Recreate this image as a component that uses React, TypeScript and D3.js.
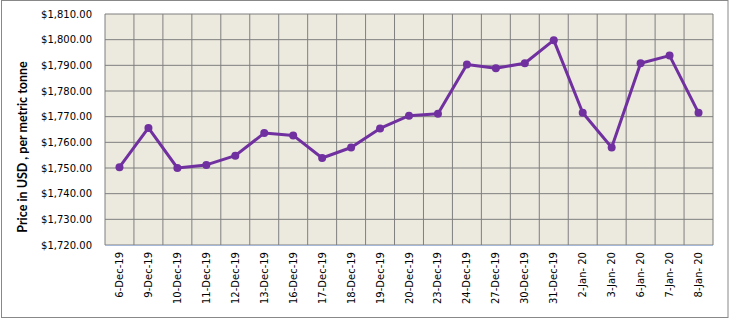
import * as d3 from "d3";
import React from "react";

// dates on the category axis
const dates = [
  "6-Dec-19", "9-Dec-19", "10-Dec-19", "11-Dec-19", "12-Dec-19", "13-Dec-19",
  "16-Dec-19", "17-Dec-19", "18-Dec-19", "19-Dec-19", "20-Dec-19", "23-Dec-19",
  "24-Dec-19", "27-Dec-19", "30-Dec-19", "31-Dec-19", "2-Jan- 20", "3-Jan- 20",
  "6-Jan- 20", "7-Jan- 20", "8-Jan- 20",
];
// price in USD per metric tonne
const prices = [
  1750.3, 1765.6, 1750.0, 1751.2, 1754.8, 1763.6, 1762.7, 1753.9, 1758.0,
  1765.4, 1770.4, 1771.1, 1790.3, 1788.9, 1790.8, 1799.8, 1771.5, 1758.0,
  1790.8, 1793.8, 1771.5,
];
const yTicks = [1720, 1730, 1740, 1750, 1760, 1770, 1780, 1790, 1800, 1810];

const W = 729;
const H = 319;
const left = 105;
const right = 713;
const top = 14;
const bottom = 245;

const App = () => {
  const x = d3.scaleBand().domain(dates).range([left, right]);
  const y = d3.scaleLinear().domain([1720, 1810]).range([bottom, top]);
  const fmt = d3.format("$,.2f");

  const line = d3.line<number>()
    .x((d, i) => x(dates[i])! + x.bandwidth() / 2)
    .y(d => y(d));

  return (
    <svg width={W} height={H} style={{ position: "absolute", left: 0, top: 0 }}>
      <rect x={0} y={0} width={W} height={H} fill="#fff" />
      <rect x={1.5} y={0.5} width={W - 2.5} height={H - 2} fill="none" stroke="#888" strokeWidth={1} />
      {/* plot area */}
      <rect x={left} y={top} width={right - left} height={bottom - top} fill="#ECE9DF" />
      {/* horizontal grid */}
      {yTicks.map(t => (
        <line key={"h" + t} x1={left} x2={right} y1={y(t)} y2={y(t)} stroke="#7f7f7f" strokeWidth={1} />
      ))}
      {/* vertical grid at category boundaries */}
      {dates.map(d => (
        <line key={"v" + d} x1={x(d)!} x2={x(d)!} y1={top} y2={bottom} stroke="#7f7f7f" strokeWidth={1} />
      ))}
      <line x1={right} x2={right} y1={top} y2={bottom} stroke="#7f7f7f" strokeWidth={1} />
      <line x1={left} x2={right} y1={bottom + 0.5} y2={bottom + 0.5} stroke="#a6b8d8" strokeWidth={1} />
      {/* y tick labels */}
      {yTicks.map(t => (
        <text key={"yt" + t} x={92} y={y(t)} dy="0.35em" textAnchor="end"
          fontFamily="DejaVu Sans" fontSize={10} fill="#000">
          {fmt(t)}
        </text>
      ))}
      {/* x tick labels */}
      {dates.map(d => {
        const cx = x(d)! + x.bandwidth() / 2;
        return (
          <text key={"xt" + d} transform={`translate(${cx},252) rotate(-90)`} dy="0.35em"
            textAnchor="end" fontFamily="DejaVu Sans" fontSize={10} fill="#000">
            {d}
          </text>
        );
      })}
      {/* y axis title */}
      <text transform="translate(23,147) rotate(-90)" dy="0.35em"
        textAnchor="middle" fontFamily="Lato" fontWeight="bold" fontSize={12.5} fill="#000">
        Price in USD , per metric tonne
      </text>
      {/* series */}
      <path d={line(prices)!} fill="none" stroke="#7030A0" strokeWidth={3} strokeLinejoin="round" />
      {prices.map((p, i) => (
        <circle key={"p" + i} cx={x(dates[i])! + x.bandwidth() / 2} cy={y(p)} r={4} fill="#7030A0" />
      ))}
    </svg>
  );
};

export default App;
